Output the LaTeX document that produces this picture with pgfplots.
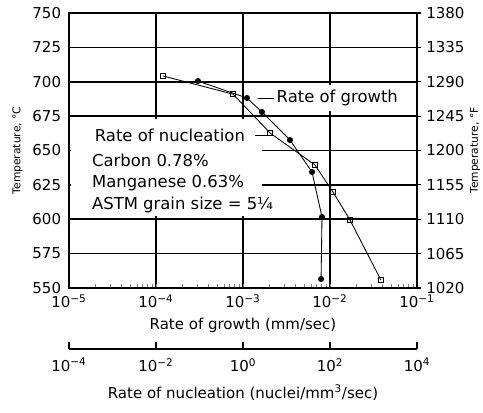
\documentclass[border=0pt]{standalone}
\usepackage{fontspec}
\setmainfont{DejaVu Sans}
\usepackage{pgfplots}
\pgfplotsset{compat=1.18}
\usetikzlibrary{calc}

% Pearlite growth rate (mm/sec) and nucleation rate (nuclei/mm^3/sec)
% against reaction temperature, eutectoid steel.
\pgfplotstableread{
T      G
700.5  3.04e-4
688.2  1.11e-3
678.0  1.65e-3
657.6  3.47e-3
634.4  6.21e-3
601.6  8.09e-3
556.5  7.90e-3
}\growth
\pgfplotstableread{
T      N
704.2  0.0145
691.0  0.59
662.7  4.2
639.5  45
619.8  117
599.5  288
555.8  1480
}\nucleation

\newcommand{\lblfont}{\fontsize{10.5}{12.5}\selectfont}
\newcommand{\notefont}{\fontsize{11.5}{13.5}\selectfont}
\newcommand{\sidefont}{\fontsize{7.5}{9}\selectfont}

\begin{document}
\begin{tikzpicture}
\pgfplotsset{
  every axis/.append style={
    scale only axis, width=243.6pt, height=192.5pt,
    tick label style={font=\lblfont},
    label style={font=\lblfont},
    /pgf/number format/assume math mode=true,
  },
}
% main axis: temperature (C) against rate of growth
\begin{axis}[
  name=main,
  xmode=log, xmin=1e-5, xmax=1e-1,
  ymin=550, ymax=750,
  ytick={550,575,...,750},
  xtick={1e-5,1e-4,1e-3,1e-2,1e-1},
  xticklabels={10\textsuperscript{−5},10\textsuperscript{−4},10\textsuperscript{−3},10\textsuperscript{−2},10\textsuperscript{−1}},
  ytick pos=left, xtick pos=bottom,
  major tick length=0pt,
  yticklabel style={xshift=-2pt},
  xticklabel style={yshift=-1pt},
  grid=major,
  major grid style={black, line width=1.1pt},
  axis line style={line width=1.7pt},
  xlabel={Rate of growth (mm/sec)},
  ylabel={Temperature, °C},
  ylabel style={font=\sidefont},
  clip=false,
]
  % panel holding the composition notes
  \fill[white] (rel axis cs:0.006,0.262) rectangle (rel axis cs:0.555,0.613);
  \node[anchor=west, font=\notefont] at (rel axis cs:0.060,0.556) {Rate of nucleation};
  \draw[line width=0.6pt] (rel axis cs:0.535,0.556) -- (rel axis cs:0.572,0.556);
  \node[anchor=west, font=\notefont] at (rel axis cs:0.052,0.465) {Carbon 0.78\%};
  \node[anchor=west, font=\notefont] at (rel axis cs:0.052,0.382) {Manganese 0.63\%};
  \node[anchor=west, font=\notefont] at (rel axis cs:0.052,0.302) {ASTM grain size = 5¼};
  \node[anchor=west, font=\notefont, fill=white, inner xsep=1pt] at (rel axis cs:0.592,0.691) {Rate of growth};
  \draw[line width=0.6pt] (rel axis cs:0.543,0.691) -- (rel axis cs:0.590,0.691);

  \addplot[black, line width=0.6pt, mark=*, mark size=1.8pt]
    table[x=G, y=T] {\growth};
\end{axis}

% overlay: nucleation data and the Fahrenheit scale
\begin{axis}[
  at={(main.south west)}, anchor=south west,
  xmode=log, xmin=1e-4, xmax=1e4,
  ymin=550, ymax=750,
  hide x axis,
  axis y line*=right,
  axis line style={line width=1.7pt},
  ytick={550,575,...,750},
  yticklabels={1020,1065,1110,1155,1200,1245,1290,1335,1380},
  major tick length=3pt, tick style={black, line width=0.8pt},
  tick align=outside,
  ylabel={Temperature, °F},
  ylabel style={font=\sidefont},
  ylabel shift=-3pt,
]
  \addplot[black, line width=0.6pt, mark=square, mark size=1.8pt,
           mark options={solid, fill=white}]
    table[x=N, y=T] {\nucleation};
\end{axis}

% separate scale for the rate of nucleation
\begin{axis}[
  at={($(main.south west)+(0,-42.7pt)$)}, anchor=south west,
  height=6pt,
  xmode=log, xmin=1e-4, xmax=1e4,
  ymin=0, ymax=1,
  hide y axis,
  axis x line*=bottom,
  axis line style={line width=1.0pt, -},
  xtick={1e-4,1e-2,1,1e2,1e4},
  xticklabels={10\textsuperscript{−4},10\textsuperscript{−2},10\textsuperscript{0},10\textsuperscript{2},10\textsuperscript{4}},
  xticklabel style={yshift=-3pt},
  tick align=inside, major tick length=5pt,
  tick style={black, line width=1.0pt},
  xlabel={Rate of nucleation (nuclei/mm\textsuperscript{3}/sec)},
  xlabel style={yshift=-2pt},
]
\end{axis}

% page margins around the plot
\pgfresetboundingbox
\path ($(main.south west)+(-48.3pt,-86.8pt)$) rectangle ($(main.north east)+(46.2pt,9.1pt)$);
\end{tikzpicture}
\end{document}
